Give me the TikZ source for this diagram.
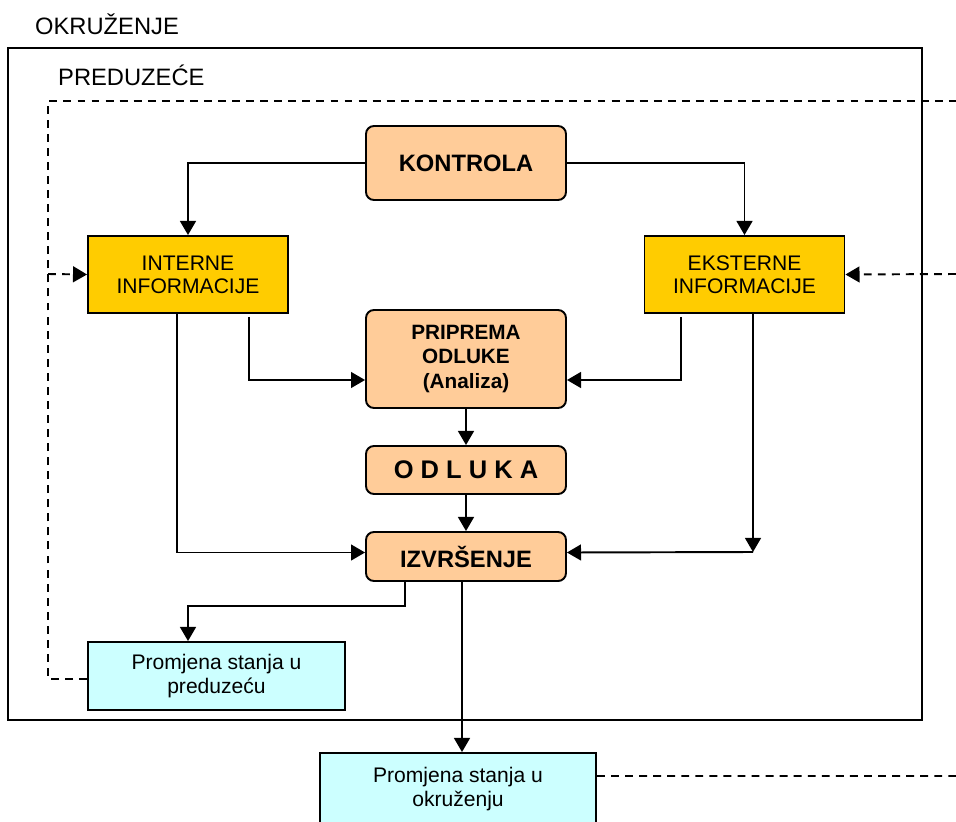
\documentclass[tikz,border=0pt]{standalone}
\usepackage{fontspec}
\setmainfont{Liberation Sans}
\usetikzlibrary{arrows.meta}

\definecolor{narandz}{HTML}{FFCC99}
\definecolor{zuta}{HTML}{FFCC00}
\definecolor{plava}{HTML}{CCFFFF}

\tikzset{
  okvir/.style={rectangle,draw,line width=1.1pt,inner sep=0pt,align=center},
  faza/.style={okvir,rounded corners=4.5pt,fill=narandz,minimum width=4cm,font=\bfseries},
  info/.style={okvir,fill=zuta,minimum width=4cm,minimum height=1.54cm,font=\fontsize{12}{13}\selectfont},
  stanje/.style={okvir,fill=plava,font=\fontsize{12}{13.5}\selectfont},
  veza/.style={line width=1.1pt,-{Triangle[length=8pt,width=9pt]}},
  povrat/.style={line width=1.1pt,dash pattern=on 4.5pt off 3.5pt}
}

\begin{document}
\begin{tikzpicture}[x=0.02cm,y=-0.02cm]
    \useasboundingbox (0,0) rectangle (956,821);

    % okruzenje i preduzece
    \node[anchor=west,font=\fontsize{13.5}{15}\selectfont] (okrtxt) at (29,24) {OKRUŽENJE};
    \draw[line width=1.2pt] (8,48) rectangle (922,720);
    \node[anchor=west,font=\fontsize{13.5}{15}\selectfont] (predtxt) at (52,75) {PREDUZEĆE};

    % faze
    \node[faza,minimum height=1.48cm,font=\bfseries\fontsize{13.5}{15}\selectfont] (kontrola) at (466,163) {KONTROLA};
    \node[info] (intern) at (188,274.5) {INTERNE\\INFORMACIJE};
    \node[info] (ekst) at (744.5,274.5) {EKSTERNE\\INFORMACIJE};
    \node[faza,minimum height=1.96cm,font=\bfseries\fontsize{11.8}{14}\selectfont] (prip) at (466,359) {PRIPREMA\\ODLUKE\\(Analiza)};
    \node[faza,minimum height=0.96cm,font=\bfseries\fontsize{14.5}{16}\selectfont] (odluka) at (466,470) {O D L U K A};
    \node[faza,minimum height=0.98cm,font=\bfseries\fontsize{13.5}{15}\selectfont] (izvr) at (466,556.5) {IZVRŠENJE};

    % promjene stanja
    \node[stanje,minimum width=5.14cm,minimum height=1.36cm] (predz) at (216.5,676) {Promjena stanja u\\preduzeću};
    \node[stanje,minimum width=5.52cm,minimum height=1.44cm] (okr) at (458,789) {Promjena stanja u\\okruženju};

    \coordinate (dtl) at (48,101);
    \coordinate (dtr) at (956,101);
    \coordinate (dl) at (48,274);
    \coordinate (dr) at (956,274);
    \coordinate (db) at (956,776);
    \coordinate (ek) at (753,552);

    % veze
    \draw[veza] (kontrola.west) -| (intern.north);
    \draw[veza] (kontrola.east) -| (ekst.north);
    \draw[veza] ([xshift=-0.8cm,yshift=-0.06cm]intern.south east) |- ([yshift=-0.42cm]prip.west);
    \draw[veza] ([xshift=0.74cm,yshift=-0.06cm]ekst.south west) |- ([yshift=-0.42cm]prip.east);
    \draw[veza] ([xshift=-0.22cm]intern.south) |- ([yshift=0.08cm]izvr.west);
    \draw[veza] ([xshift=0.17cm]ekst.south) -- (ek);
    \draw[veza] (ek) -- ([yshift=0.08cm]izvr.east);
    \draw[veza] (prip) -- (odluka);
    \draw[veza] (odluka) -- (izvr);
    \draw[veza] ([xshift=0.8cm]izvr.south west) -- ++(0,24) -| ([xshift=-0.57cm]predz.north);
    \draw[veza] ([xshift=-0.08cm]izvr.south) -- ([xshift=0.08cm]okr.north);

    % povratne veze
    \draw[povrat] ([yshift=-0.06cm]predz.west) -| (dtl) -- (dtr);
    \draw[povrat,veza] (dl) -- (intern.west);
    \draw[povrat,veza] (dr) -- (ekst.east);
    \draw[povrat] ([yshift=0.26cm]okr.east) -- (db);
\end{tikzpicture}
\end{document}
